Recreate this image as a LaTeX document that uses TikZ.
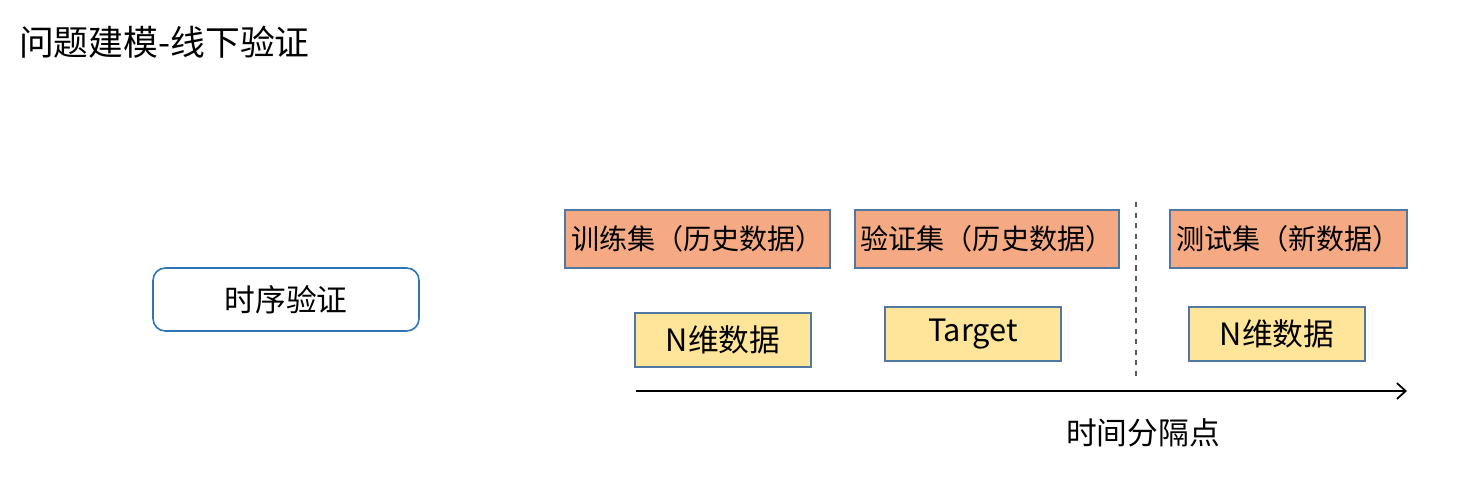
\documentclass[tikz,border=0pt]{standalone}
\usepackage{fontspec}
\setmainfont{Noto Sans CJK SC}
\usepackage{xcolor}
\usetikzlibrary{calc,arrows.meta}
\definecolor{setfill}{RGB}{245,170,132}
\definecolor{datafill}{RGB}{255,229,153}
\definecolor{boxline}{RGB}{80,120,160}
\definecolor{roundline}{RGB}{46,117,182}
\tikzset{
  setbox/.style={draw=boxline, line width=0.9pt, fill=setfill, minimum height=1.16cm, inner sep=0pt, font=\fontsize{16}{19}\selectfont},
  databox/.style={draw=boxline, line width=0.9pt, fill=datafill, minimum width=3.52cm, minimum height=1.08cm, inner sep=0pt, font=\fontsize{17.5}{21}\selectfont},
}

\begin{document}
\begin{tikzpicture}[x=0.02cm, y=-0.02cm]
\useasboundingbox (0,0) rectangle (1479,497);
\node[anchor=west, font=\fontsize{19.8}{24}\selectfont] (title) at (13,42) {问题建模-线下验证};
\node[draw=roundline, line width=0.9pt, rounded corners=7pt, minimum width=5.32cm, minimum height=1.26cm, font=\fontsize{17.5}{21}\selectfont] (ts) at (286,299.5) {时序验证};
% sets
\node[setbox, minimum width=5.3cm] (train) at (697.5,239) {训练集（历史数据）};
\node[setbox, minimum width=5.28cm] (valid) at (987,239) {验证集（历史数据）};
\node[setbox, minimum width=4.74cm] (test) at (1288.5,239) {测试集（新数据）};
% data
\node[databox] (trainx) at (723,340) {N维数据};
\node[databox] (validy) at (973,334) {Target};
\node[databox] (testx) at (1277,334) {N维数据};
% time axis
\coordinate (split top) at (1136,202);
\coordinate (split bot) at (1136,380);
\draw[dashed, line width=0.7pt, gray!70!black] (split top) -- (split bot);
\coordinate (axis start) at (636,391);
\coordinate (axis end) at (1407,391);
\draw[-{Straight Barb[length=5pt, width=9pt]}, line width=1pt] (axis start) -- (axis end);
\node[font=\fontsize{17.5}{21}\selectfont] (split) at (1143,433) {时间分隔点};
\end{tikzpicture}
\end{document}
